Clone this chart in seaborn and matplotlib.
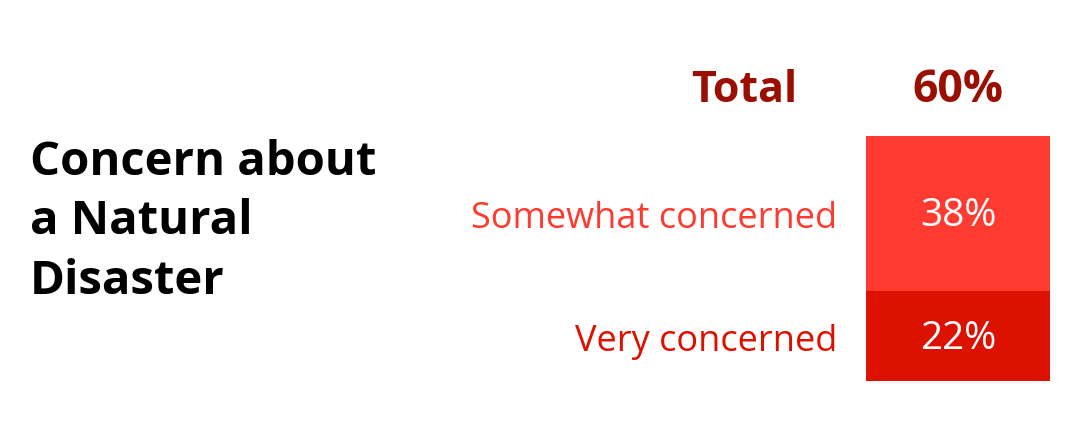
import matplotlib
matplotlib.use("Agg")
import matplotlib.pyplot as plt
import matplotlib.transforms as mtransforms
import seaborn as sns
import pandas as pd

categories = ["Very concerned", "Somewhat concerned"]
values = [22, 38]
total_label = "Total"
title_lines = ["Concern about", "a Natural", "Disaster"]

seg_colors = ["#DC1100", "#FF3A30"]
label_colors = ["#DC1100", "#FF3A30"]
dark_red = "#9B0F00"

sns.set_theme(style="white")
plt.rcParams["font.family"] = ["Open Sans", "DejaVu Sans"]

fig = plt.figure(figsize=(10.9, 4.3), dpi=100)
ax = fig.add_axes([866 / 1090, (430 - 381) / 430, 184 / 1090, 245 / 430])

total = sum(values)
df_total = pd.DataFrame({"g": [total_label], "v": [total]})
df_bottom = pd.DataFrame({"g": [total_label], "v": [values[0]]})
sns.barplot(data=df_total, x="g", y="v", color=seg_colors[1], saturation=1,
            width=0.8, ax=ax, edgecolor="none", linewidth=0)
sns.barplot(data=df_bottom, x="g", y="v", color=seg_colors[0], saturation=1,
            width=0.8, ax=ax, edgecolor="none", linewidth=0)

ax.set_xlim(-0.4, 0.4)
ax.set_ylim(0, total)
ax.axis("off")

trans = mtransforms.blended_transform_factory(fig.transFigure, ax.transData)
bottom = 0
for cat, val, lc in zip(categories, values, label_colors):
    mid = bottom + val / 2
    ax.annotate(f"{val}%", (0, mid), xytext=(0, -2), textcoords="offset points",
                ha="center", va="center", color="white", fontsize=28)
    ax.annotate(cat, (837 / 1090, mid), xycoords=trans, xytext=(0, -4),
                textcoords="offset points", ha="right", va="center",
                color=lc, fontsize=26)
    bottom += val

fig.text(958 / 1090, 1 - 90 / 430, f"{total}%", ha="center", va="center",
         color=dark_red, fontsize=32, fontweight="bold")
fig.text(797 / 1090, 1 - 90 / 430, total_label, ha="right", va="center",
         color=dark_red, fontsize=31, fontweight="bold")

fig.text(30 / 1090, 1 - 222 / 430, "\n".join(title_lines), ha="left",
         va="center", color="black", fontsize=34, fontweight="bold",
         linespacing=1.35)

fig.savefig("out.png", dpi=100, facecolor="white")
